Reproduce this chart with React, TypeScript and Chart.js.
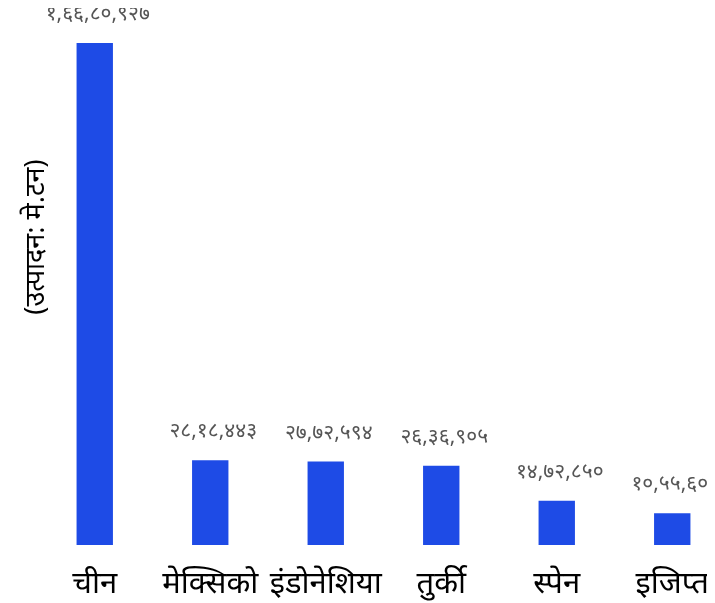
import React, { useEffect, useRef } from "react";
import { Chart, registerables } from "chart.js";

Chart.register(...registerables);

const categories = ["चीन", "मेक्सिको", "इंडोनेशिया", "तुर्की", "स्पेन", "इजिप्त"];
const production = [16680927, 2818443, 2772594, 2636905, 1472850, 1055600];
const yTitle = "(उत्पादन: मे.टन)";
const barColor = "#1E4BE6";

const devDigits = ["०", "१", "२", "३", "४", "५", "६", "७", "८", "९"];
function formatNepali(n: number): string {
  const s = String(Math.round(n));
  const last3 = s.slice(-3);
  let rest = s.slice(0, -3);
  const parts: string[] = [];
  while (rest.length > 2) {
    parts.unshift(rest.slice(-2));
    rest = rest.slice(0, -2);
  }
  if (rest.length) parts.unshift(rest);
  parts.push(last3);
  return parts.join(",").replace(/[0-9]/g, (d) => devDigits[Number(d)]);
}

const valueLabels = {
  id: "valueLabels",
  afterDatasetsDraw(chart: any) {
    const ctx = chart.ctx;
    const meta = chart.getDatasetMeta(0);
    ctx.save();
    ctx.font = "21px 'Noto Sans', sans-serif";
    ctx.fillStyle = "#555";
    ctx.textAlign = "center";
    ctx.textBaseline = "middle";
    meta.data.forEach((bar: any, i: number) => {
      ctx.fillText(formatNepali(production[i]), bar.x + 3, bar.y - 29);
    });
    ctx.restore();
  },
};

const yTitlePlugin = {
  id: "yTitlePlugin",
  afterDraw(chart: any) {
    const ctx = chart.ctx;
    ctx.save();
    ctx.font = "27px 'Noto Sans', sans-serif";
    ctx.fillStyle = "#000";
    ctx.textAlign = "center";
    ctx.textBaseline = "middle";
    ctx.translate(28, 229);
    ctx.rotate(-Math.PI / 2);
    ctx.fillText(yTitle, 0, 0);
    ctx.restore();
  },
};

export default function App() {
  const ref = useRef<HTMLCanvasElement>(null);
  useEffect(() => {
    document.documentElement.style.overflow = "hidden";
    document.body.style.overflow = "hidden";
    if (!ref.current) return;
    const chart = new Chart(ref.current, {
      type: "bar",
      data: {
        labels: categories,
        datasets: [
          {
            data: production,
            backgroundColor: barColor,
            barPercentage: 0.9,
            categoryPercentage: 0.35,
          },
        ],
      },
      options: {
        animation: false,
        responsive: false,
        maintainAspectRatio: false,
        layout: { padding: { left: 29, right: 0, top: 35, bottom: 0 } },
        plugins: { legend: { display: false }, tooltip: { enabled: false } },
        scales: {
          x: {
            grid: { display: false },
            border: { display: false },
            afterFit: (scale: any) => {
              scale.height = 58;
            },
            ticks: {
              color: "#000",
              font: { size: 31, family: "'Noto Sans', sans-serif" },
              maxRotation: 0,
              autoSkip: false,
              padding: 13,
            },
          },
          y: {
            display: false,
            min: 0,
            max: 16680927,
          },
        },
      },
      plugins: [valueLabels, yTitlePlugin],
    });
    return () => chart.destroy();
  }, []);
  return (
    <div style={{ width: 699, height: 595, overflow: "hidden" }}>
      <canvas ref={ref} width={722} height={595} style={{ width: 722, height: 595, display: "block" }} />
    </div>
  );
}
